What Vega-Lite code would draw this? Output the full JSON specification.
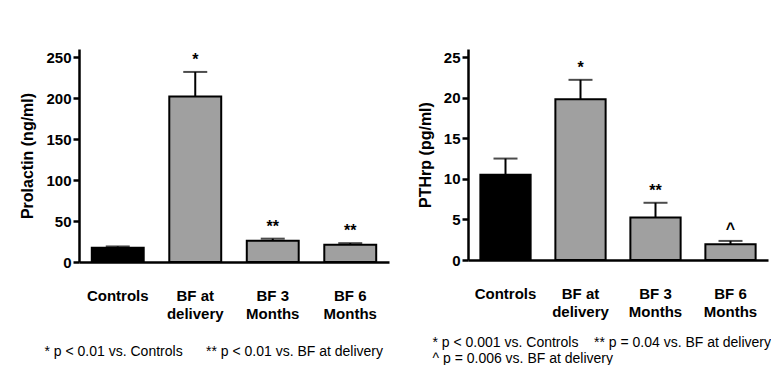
{
  "$schema": "https://vega.github.io/schema/vega-lite/v6.json",
  "padding": {"left": 19, "top": 49, "right": 0, "bottom": 0},
  "spacing": 28,
  "config": {
    "font": "Liberation Sans",
    "view": {"stroke": null},
    "axisX": {
      "ticks": false, "labelAngle": 0, "labelFontSize": 15, "labelFontWeight": "bold",
      "labelColor": "black", "domainColor": "black", "domainWidth": 2.5, "labelPadding": 26,
      "labelLineHeight": 18, "labelExpr": "split(datum.label, '|')",
      "titleFontSize": 14, "titleFontWeight": "normal", "titleColor": "black",
      "titleAnchor": "start", "titleAlign": "left", "titleBaseline": "top", "titleLineHeight": 16
    },
    "axisY": {
      "grid": false, "labelFontSize": 15, "labelFontWeight": "bold", "labelColor": "black",
      "domainColor": "black", "domainWidth": 2.5, "tickColor": "black", "tickWidth": 2.5, "tickSize": 6,
      "labelPadding": 2, "titleFontSize": 16, "titleFontWeight": "bold", "titleColor": "black", "titlePadding": 10
    }
  },
  "hconcat": [
    {
      "width": 310, "height": 213,
      "data": {"values": [
        {"group": "Controls", "kind": "control", "mean": 17.5, "upper": 19, "sig": ""},
        {"group": "BF at|delivery", "kind": "bf", "mean": 202, "upper": 232, "sig": "*"},
        {"group": "BF 3|Months", "kind": "bf", "mean": 26, "upper": 28.5, "sig": "**"},
        {"group": "BF 6|Months", "kind": "bf", "mean": 21, "upper": 23, "sig": "**"}
      ]},
      "encoding": {"x": {"field": "group", "type": "nominal", "sort": null, "scale": {"paddingInner": 0.33, "paddingOuter": 0.165},
        "axis": {"title": "* p < 0.01 vs. Controls\u00a0\u00a0\u00a0\u00a0\u00a0\u00a0** p < 0.01 vs. BF at delivery", "titleX": -35, "titlePadding": 23}}},
      "layer": [
        {"mark": {"type": "bar", "stroke": "black", "strokeWidth": 2},
         "encoding": {
           "y": {"field": "mean", "type": "quantitative", "scale": {"domain": [0, 250]}, "axis": {"title": "Prolactin (ng/ml)", "values": [0, 50, 100, 150, 200, 250]}},
           "color": {"field": "kind", "type": "nominal", "scale": {"domain": ["control", "bf"], "range": ["#000000", "#a0a0a0"]}, "legend": null}
         }},
        {"mark": {"type": "rule", "strokeWidth": 2, "color": "black"},
         "encoding": {"y": {"field": "mean", "type": "quantitative"}, "y2": {"field": "upper"}}},
        {"mark": {"type": "tick", "color": "black", "thickness": 2, "size": 24},
         "encoding": {"y": {"field": "upper", "type": "quantitative"}}},
        {"mark": {"type": "text", "baseline": "bottom", "dy": -4, "fontSize": 16, "fontWeight": "bold", "color": "black"},
         "encoding": {"y": {"field": "upper", "type": "quantitative"}, "text": {"field": "sig"}}}
      ]
    },
    {
      "width": 300, "height": 211,
      "data": {"values": [
        {"group": "Controls", "kind": "control", "mean": 10.5, "upper": 12.5, "sig": ""},
        {"group": "BF at|delivery", "kind": "bf", "mean": 19.8, "upper": 22.2, "sig": "*"},
        {"group": "BF 3|Months", "kind": "bf", "mean": 5.25, "upper": 7.05, "sig": "**"},
        {"group": "BF 6|Months", "kind": "bf", "mean": 1.95, "upper": 2.35, "sig": "^"}
      ]},
      "encoding": {"x": {"field": "group", "type": "nominal", "sort": null, "scale": {"paddingInner": 0.33, "paddingOuter": 0.165},
        "axis": {"title": ["* p < 0.001 vs. Controls\u00a0\u00a0\u00a0\u00a0** p = 0.04 vs. BF at delivery", "^ p = 0.006 vs. BF at delivery"], "titleX": -36, "titlePadding": 16}}},
      "layer": [
        {"mark": {"type": "bar", "stroke": "black", "strokeWidth": 2},
         "encoding": {
           "y": {"field": "mean", "type": "quantitative", "scale": {"domain": [0, 25]}, "axis": {"title": "PTHrp (pg/ml)", "values": [0, 5, 10, 15, 20, 25]}},
           "color": {"field": "kind", "type": "nominal", "scale": {"domain": ["control", "bf"], "range": ["#000000", "#a0a0a0"]}, "legend": null}
         }},
        {"mark": {"type": "rule", "strokeWidth": 2, "color": "black"},
         "encoding": {"y": {"field": "mean", "type": "quantitative"}, "y2": {"field": "upper"}}},
        {"mark": {"type": "tick", "color": "black", "thickness": 2, "size": 24},
         "encoding": {"y": {"field": "upper", "type": "quantitative"}}},
        {"mark": {"type": "text", "baseline": "bottom", "dy": -4, "fontSize": 16, "fontWeight": "bold", "color": "black"},
         "encoding": {"y": {"field": "upper", "type": "quantitative"}, "text": {"field": "sig"}}}
      ]
    }
  ]
}
